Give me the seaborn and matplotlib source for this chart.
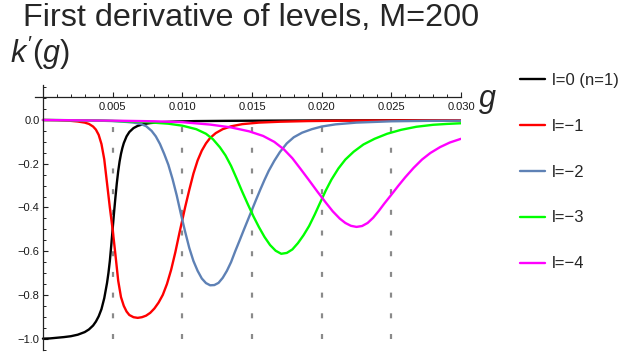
import numpy as np
import pandas as pd
import matplotlib
matplotlib.use("Agg")
import matplotlib.pyplot as plt
from matplotlib.ticker import FixedLocator, FixedFormatter, MultipleLocator
import seaborn as sns

# ---------------- data ----------------
g_l0 = [0, 0.0005, 0.001, 0.0015, 0.002, 0.0025, 0.003, 0.0033, 0.0036, 0.0038, 0.004,
        0.0042, 0.0044, 0.0046, 0.0047, 0.0048, 0.0049, 0.005, 0.0051, 0.0052, 0.0053,
        0.0054, 0.0055, 0.0056, 0.0057, 0.0058, 0.006, 0.0062, 0.0065, 0.0068, 0.0072,
        0.0077, 0.0085, 0.0095, 0.011, 0.013, 0.016, 0.020, 0.025, 0.030]
k_l0 = [-1.0, -0.999, -0.996, -0.993, -0.989, -0.982, -0.970, -0.958, -0.940, -0.922, -0.898,
        -0.865, -0.815, -0.745, -0.70, -0.645, -0.575, -0.50, -0.425, -0.355, -0.29,
        -0.235, -0.19, -0.155, -0.128, -0.106, -0.075, -0.055, -0.037, -0.027, -0.019,
        -0.014, -0.010, -0.007, -0.005, -0.004, -0.003, -0.002, -0.0015, -0.001]

g_l1 = [0, 0.001, 0.002, 0.0025, 0.003, 0.0033, 0.0036, 0.0038, 0.004, 0.0042, 0.0044,
        0.0046, 0.0048, 0.005, 0.0052, 0.0054, 0.0056, 0.0058, 0.006, 0.0062, 0.0065,
        0.0068, 0.0071, 0.0074, 0.0077, 0.008, 0.0083, 0.0086, 0.0089, 0.0092, 0.0095,
        0.0098, 0.010, 0.0102, 0.0105, 0.0108, 0.0111, 0.0114, 0.0117, 0.012, 0.0124,
        0.0129, 0.0135, 0.0143, 0.0155, 0.017, 0.019, 0.022, 0.026, 0.030]
k_l1 = [0, -0.001, -0.004, -0.007, -0.012, -0.018, -0.030, -0.044, -0.068, -0.110, -0.18,
        -0.29, -0.40, -0.50, -0.615, -0.735, -0.81, -0.85, -0.876, -0.892, -0.902,
        -0.905, -0.902, -0.895, -0.882, -0.862, -0.835, -0.80, -0.75, -0.685, -0.605,
        -0.515, -0.458, -0.40, -0.32, -0.245, -0.185, -0.140, -0.107, -0.082, -0.060,
        -0.042, -0.029, -0.019, -0.012, -0.008, -0.005, -0.003, -0.002, -0.001]

g_l2 = [0, 0.002, 0.004, 0.005, 0.006, 0.0065, 0.007, 0.0074, 0.0078, 0.0081, 0.0084,
        0.0087, 0.009, 0.0093, 0.0096, 0.0099, 0.0102, 0.0105, 0.0108, 0.0111, 0.0114,
        0.0117, 0.012, 0.0123, 0.0126, 0.0129, 0.0132, 0.0135, 0.0138, 0.0141, 0.0144,
        0.0147, 0.015, 0.0153, 0.0156, 0.0159, 0.0162, 0.0166, 0.017, 0.0175, 0.018,
        0.0186, 0.0193, 0.020, 0.021, 0.0225, 0.025, 0.0275, 0.030]
k_l2 = [0, -0.001, -0.003, -0.005, -0.009, -0.012, -0.018, -0.028, -0.050, -0.075, -0.110,
        -0.155, -0.205, -0.27, -0.345, -0.43, -0.51, -0.585, -0.645, -0.69, -0.725,
        -0.746, -0.756, -0.755, -0.745, -0.722, -0.69, -0.65, -0.60, -0.553, -0.505,
        -0.458, -0.411, -0.364, -0.318, -0.274, -0.233, -0.187, -0.147, -0.107, -0.079,
        -0.058, -0.042, -0.030, -0.020, -0.012, -0.006, -0.004, -0.003]

g_l3 = [0, 0.004, 0.007, 0.009, 0.010, 0.011, 0.0117, 0.0122, 0.0127, 0.0131, 0.0135,
        0.0139, 0.0143, 0.0147, 0.0151, 0.0155, 0.0159, 0.0163, 0.0167, 0.0171, 0.0175,
        0.0179, 0.0183, 0.0187, 0.0191, 0.0195, 0.0199, 0.0203, 0.0207, 0.0212, 0.0217,
        0.0223, 0.023, 0.0238, 0.0247, 0.0257, 0.0268, 0.028, 0.029, 0.030]
k_l3 = [0, -0.002, -0.008, -0.017, -0.026, -0.042, -0.063, -0.088, -0.125, -0.162, -0.210,
        -0.268, -0.328, -0.385, -0.44, -0.490, -0.535, -0.572, -0.598, -0.612, -0.608,
        -0.592, -0.563, -0.527, -0.485, -0.433, -0.377, -0.322, -0.273, -0.222, -0.181,
        -0.145, -0.112, -0.086, -0.063, -0.045, -0.031, -0.022, -0.018, -0.015]

g_l4 = [0, 0.005, 0.008, 0.010, 0.012, 0.0135, 0.0148, 0.0158, 0.0166, 0.0173, 0.0179,
        0.0185, 0.0191, 0.0197, 0.0203, 0.0208, 0.0213, 0.0217, 0.0221, 0.0225, 0.0229,
        0.0233, 0.0237, 0.0241, 0.0245, 0.025, 0.0255, 0.026, 0.0266, 0.0272, 0.0278,
        0.0285, 0.0292, 0.030]
k_l4 = [0, -0.003, -0.006, -0.010, -0.021, -0.034, -0.052, -0.073, -0.100, -0.135, -0.175,
        -0.225, -0.276, -0.328, -0.378, -0.418, -0.451, -0.471, -0.484, -0.489, -0.485,
        -0.471, -0.447, -0.416, -0.382, -0.342, -0.301, -0.262, -0.219, -0.181, -0.151,
        -0.124, -0.103, -0.086]

series_labels = ["l=0 (n=1)", "l=\u22121", "l=\u22122", "l=\u22123", "l=\u22124"]
series_colors = ["#000000", "#FF0000", "#5E81B5", "#00FF00", "#FF00FF"]
marker_g = [0.005, 0.010, 0.015, 0.020, 0.025]

xtick_vals = [0.005, 0.010, 0.015, 0.020, 0.025, 0.030]
xtick_labels = ["0.005", "0.010", "0.015", "0.020", "0.025", "0.030"]
ytick_vals = [0.0, -0.2, -0.4, -0.6, -0.8, -1.0]
ytick_labels = ["0.0", "\u22120.2", "\u22120.4", "\u22120.6", "\u22120.8", "\u22121.0"]

title_text = "First derivative of levels, M=200"
ylabel_text = "$k'(g)$"
xlabel_text = "g"

# ---------------- build table ----------------
frames = []
for lab, gs, ks in zip(series_labels,
                       [g_l0, g_l1, g_l2, g_l3, g_l4],
                       [k_l0, k_l1, k_l2, k_l3, k_l4]):
    frames.append(pd.DataFrame({"g": gs, "k": ks, "series": lab}))
df = pd.concat(frames, ignore_index=True)

# ---------------- style ----------------
sns.set_theme(style="white")
plt.rcParams["font.family"] = ["Liberation Sans", "DejaVu Sans"]
plt.rcParams["mathtext.fontset"] = "custom"
plt.rcParams["mathtext.rm"] = "Liberation Sans"
plt.rcParams["mathtext.it"] = "Liberation Sans:italic"
plt.rcParams["lines.scale_dashes"] = False
plt.rcParams["lines.solid_joinstyle"] = "round"

W, H = 627, 358
fig = plt.figure(figsize=(W / 100, H / 100), dpi=100)
ax_left, ax_right, ax_top, ax_bot = 35, 461, 85, 350
ax = fig.add_axes([ax_left / W, 1 - ax_bot / H, (ax_right - ax_left) / W, (ax_bot - ax_top) / H])

# dashed vertical guides
ax.vlines(marker_g, -1.0, 0.0, colors="#8a8a8a", linewidth=1.6,
          linestyles=[(0, (3.6, 11.3))], zorder=1)

palette = dict(zip(series_labels, series_colors))
sns.lineplot(data=df, x="g", y="k", hue="series", hue_order=series_labels,
             palette=palette, sort=False, estimator=None, linewidth=1.7, ax=ax, zorder=3)

ax.set_xlim(-0.00057, 0.0300)
ax.set_ylim(-1.052, 0.160)

# axes like Mathematica
axis_col = "#222222"
for s in ["top", "right"]:
    ax.spines[s].set_visible(False)
ax.spines["left"].set_position(("data", 0.0))
ax.spines["bottom"].set_position(("data", 0.1065))
for s in ["left", "bottom"]:
    ax.spines[s].set_color(axis_col)
    ax.spines[s].set_linewidth(0.9)
    ax.spines[s].set_zorder(4)

ax.xaxis.set_major_locator(FixedLocator(xtick_vals))
ax.xaxis.set_major_formatter(FixedFormatter(xtick_labels))
ax.xaxis.set_minor_locator(MultipleLocator(0.001))
ax.yaxis.set_major_locator(FixedLocator(ytick_vals))
ax.yaxis.set_major_formatter(FixedFormatter(ytick_labels))
ax.yaxis.set_minor_locator(MultipleLocator(0.05))

ax.tick_params(axis="both", which="major", direction="in", length=3.8, width=0.8,
               colors=axis_col, labelsize=8, labelcolor="#1a1a1a")
ax.tick_params(axis="both", which="minor", direction="in", length=2.2, width=0.7,
               colors=axis_col)
ax.tick_params(axis="x", which="major", pad=3.5, bottom=True)
ax.tick_params(axis="x", which="minor", bottom=True)
ax.tick_params(axis="y", which="major", pad=2.5, left=True)
ax.tick_params(axis="y", which="minor", left=True)
ax.set_xlabel("")
ax.set_ylabel("")

# texts
fig.text(23 / W, 1 - 26.5 / H, title_text, fontsize=23.3, va="baseline", ha="left")
fig.text(10 / W, 1 - 63 / H, ylabel_text, fontsize=22, va="baseline", ha="left")
fig.text(479 / W, 1 - 107 / H, xlabel_text, fontsize=22, style="italic",
         va="baseline", ha="left")

# legend
sns.move_legend(ax, loc="upper left", bbox_to_anchor=(520 / W, 1 - 73 / H),
                bbox_transform=fig.transFigure, frameon=False, title=None,
                fontsize=12, handlelength=1.5, handletextpad=0.42,
                labelspacing=1.85, borderpad=0, borderaxespad=0)

fig.savefig("out.png", dpi=100)
